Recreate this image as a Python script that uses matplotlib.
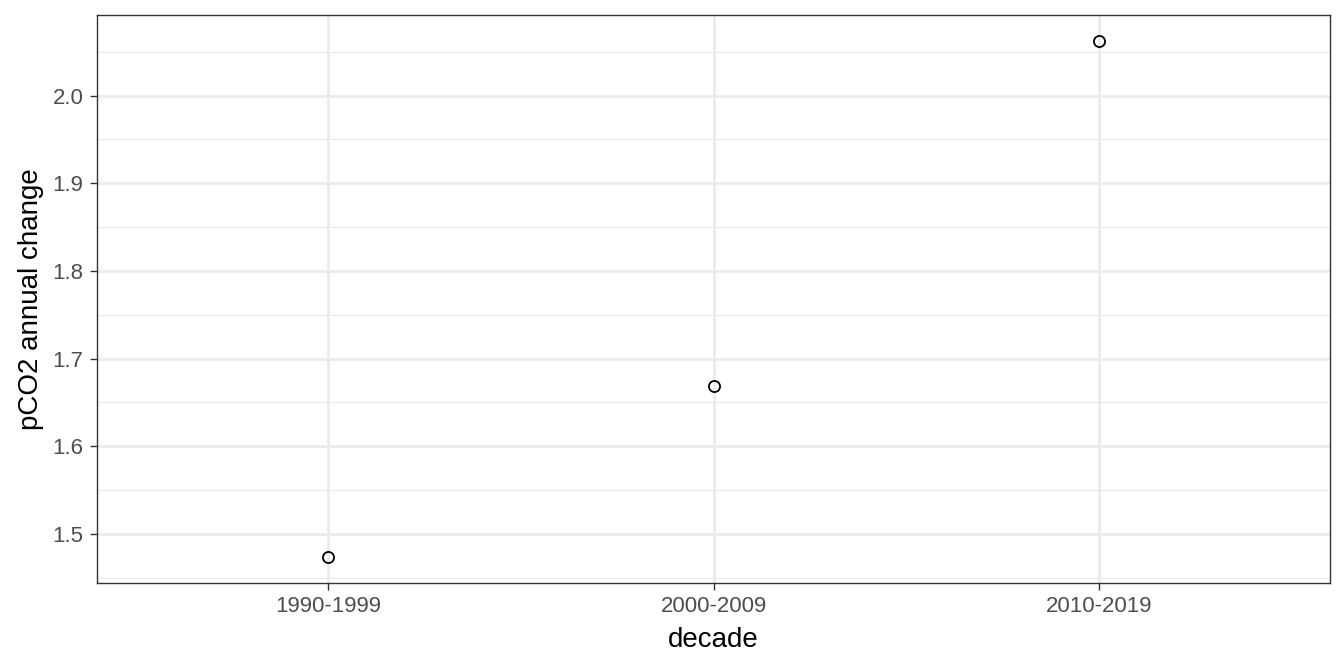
import matplotlib
matplotlib.use("Agg")
import matplotlib.pyplot as plt
from matplotlib.ticker import MultipleLocator

decades = ["1990-1999", "2000-2009", "2010-2019"]
pco2_change = [1.4736, 1.6693, 2.0624]

plt.rcParams['font.family'] = ['Liberation Sans', 'DejaVu Sans']

fig = plt.figure(figsize=(13.44, 6.72), dpi=100)
ax = fig.add_axes([97/1344, 89/672, (1330-97)/1344, (583-15)/672])

x = list(range(1, len(decades) + 1))
ax.plot(x, pco2_change, linestyle='none', marker='o', markersize=8,
        markerfacecolor='none', markeredgecolor='black', markeredgewidth=1.3, zorder=3)

ax.set_xlim(0.4, 3.6)
ymin, ymax = min(pco2_change), max(pco2_change)
pad = (ymax - ymin) * 0.05
ax.set_ylim(ymin - pad, ymax + pad)

ax.set_xticks(x)
ax.set_xticklabels(decades)
ax.yaxis.set_major_locator(MultipleLocator(0.1))
ax.yaxis.set_minor_locator(MultipleLocator(0.05))
ax.yaxis.set_major_formatter(matplotlib.ticker.FormatStrFormatter('%.1f'))

ax.grid(True, which='major', color='#ebebeb', linewidth=2.0, zorder=0)
ax.grid(True, which='minor', axis='y', color='#ebebeb', linewidth=1.0, zorder=0)
ax.set_axisbelow(True)

for s in ax.spines.values():
    s.set_color('#333333')
    s.set_linewidth(1.0)

ax.tick_params(axis='both', which='major', length=5.2, width=1.0, color='#333333',
               labelcolor='#4d4d4d', labelsize=16, pad=4.5)
ax.tick_params(axis='y', which='minor', length=0)

ax.set_xlabel('decade', fontsize=20, color='black', labelpad=7)
ax.set_ylabel('pCO2 annual change', fontsize=20, color='black', labelpad=6)

fig.savefig('out.png', dpi=100, facecolor='white')
